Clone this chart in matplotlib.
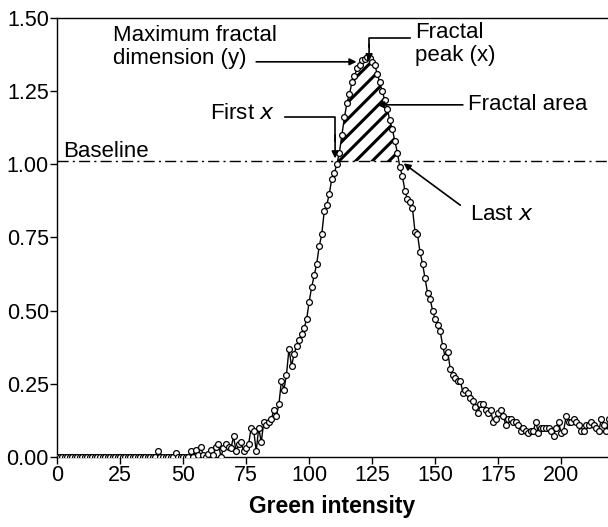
import numpy as np
import matplotlib
matplotlib.use('Agg')
import matplotlib.pyplot as plt

plt.rcParams['font.family'] = ['Liberation Sans', 'DejaVu Sans']
plt.rcParams['hatch.linewidth'] = 2.2

# fractal dimension per green intensity (0..219)
low = [0.0] * 40 + [0.02, 0.0, 0.0, 0.0, 0.0, 0.0, 0.0, 0.015, 0.0, 0.0,
                    0.0, 0.0, 0.0, 0.02, 0.0, 0.025, 0.005, 0.035, 0.005, 0.0]
rise = [0.01, 0.025, 0.005, 0.035, 0.045, 0.0, 0.03, 0.045, 0.035, 0.03,
        0.07, 0.02, 0.045, 0.05, 0.02, 0.03, 0.045, 0.10, 0.09, 0.02,
        0.10, 0.05, 0.12, 0.11, 0.12, 0.13, 0.16, 0.14, 0.18, 0.26,
        0.23, 0.28, 0.37, 0.31, 0.35, 0.38, 0.40, 0.42, 0.44, 0.47]
peak = [0.53, 0.58, 0.62, 0.66, 0.72, 0.76, 0.84, 0.86, 0.90, 0.95,
        0.97, 1.00, 1.04, 1.10, 1.16, 1.21, 1.24, 1.28, 1.30, 1.33,
        1.34, 1.355, 1.36, 1.365, 1.362, 1.35, 1.34, 1.31, 1.28, 1.25,
        1.22, 1.19, 1.15, 1.12, 1.08, 1.04]
fall = [0.99, 0.96, 0.91, 0.88, 0.87, 0.85, 0.77, 0.76, 0.70, 0.66,
        0.61, 0.56, 0.54, 0.50, 0.47, 0.45, 0.43, 0.38, 0.34, 0.36,
        0.30, 0.28, 0.27, 0.26, 0.26, 0.22, 0.23, 0.22]
tail = [0.20, 0.19, 0.17, 0.15, 0.18, 0.18, 0.16, 0.15, 0.16, 0.12,
        0.13, 0.15, 0.16, 0.14, 0.11, 0.13, 0.13, 0.12, 0.12, 0.11,
        0.09, 0.10, 0.09, 0.08, 0.09, 0.09, 0.12, 0.08, 0.10, 0.10,
        0.10, 0.10, 0.09, 0.07, 0.10, 0.12, 0.08, 0.09, 0.14, 0.12,
        0.12, 0.13, 0.12, 0.11, 0.09, 0.09, 0.11, 0.11, 0.12, 0.11,
        0.10, 0.09, 0.13, 0.11, 0.09, 0.13]
fd = np.array(low + rise + peak + fall + tail)
green = np.arange(len(fd))

baseline = 1.01
first_x, last_x = 111, 135

fig = plt.figure(figsize=(6.08, 5.27), dpi=100)
ax = fig.add_axes([0.094, 0.133, 0.906, 0.833])

# hatched fractal area
sel = (green >= first_x) & (green <= last_x)
ax.fill_between(green, baseline, fd, where=sel, interpolate=True,
                facecolor='white', edgecolor='black', hatch='//', linewidth=0, zorder=1)

ax.axhline(baseline, color='black', lw=1, ls=(0, (8, 3, 1.5, 3)), zorder=2)
ax.plot(green, fd, color='black', lw=1, marker='o', ms=4.2, mfc='white',
        mec='black', mew=0.9, zorder=3)

ax.set_xlim(0, 218.6)
ax.set_ylim(0, 1.5)
ax.set_xticks(np.arange(0, 201, 25))
ax.set_yticks(np.arange(0, 1.51, 0.25))
ax.yaxis.set_major_formatter(matplotlib.ticker.FormatStrFormatter('%.2f'))
ax.tick_params(direction='out', length=5, width=1, labelsize=15.5, pad=1)
ax.spines['right'].set_visible(False)
for s in ['left', 'bottom', 'top']:
    ax.spines[s].set_linewidth(1)
ax.set_xlabel('Green intensity', fontsize=16.5, fontweight='bold', labelpad=6)

arr = dict(arrowstyle='-|>', color='black', lw=1.2, mutation_scale=10,
           shrinkA=0, shrinkB=0)
tkw = dict(fontsize=16, va='center')

ax.text(2.4, 1.042, 'Baseline', **tkw)

ax.text(22, 1.40, 'Maximum fractal\ndimension (y)', linespacing=1.15, **tkw)
ax.annotate('', xy=(118.8, 1.35), xytext=(79, 1.35), arrowprops=arr)

ax.text(142, 1.41, 'Fractal\npeak (x)', linespacing=1.15, **tkw)
ax.plot([140, 123.8, 123.8], [1.433, 1.433, 1.40], color='black', lw=1.2)
ax.annotate('', xy=(123.8, 1.352), xytext=(123.8, 1.41), arrowprops=arr)

ax.text(60.7, 1.175, 'First $\\it{x}$', **tkw)
ax.plot([90.5, 110.3, 110.3], [1.163, 1.163, 1.08], color='black', lw=1.2)
ax.annotate('', xy=(110.3, 1.02), xytext=(110.3, 1.1), arrowprops=arr)

ax.text(163.1, 1.205, 'Fractal area', **tkw)
ax.annotate('', xy=(127, 1.203), xytext=(161, 1.203), arrowprops=arr)

ax.text(163.9, 0.827, 'Last $\\it{x}$', **tkw)
ax.annotate('', xy=(137.5, 1.003), xytext=(160, 0.86), arrowprops=arr)

fig.savefig('out.png', dpi=100)
